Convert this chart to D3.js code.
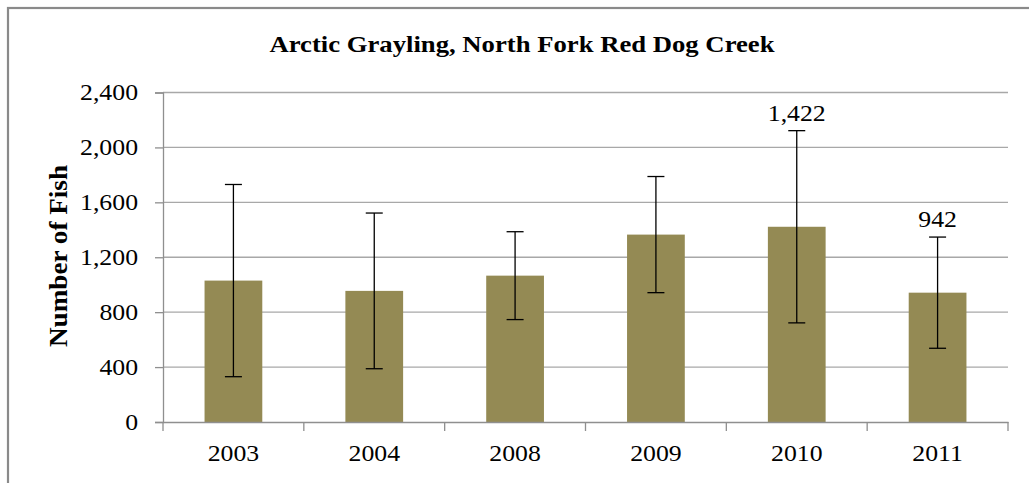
<!DOCTYPE html>
<html><head><meta charset="utf-8">
<script src="https://cdn.jsdelivr.net/npm/d3@7"></script>
<style>
html,body{margin:0;padding:0;background:#fff;}
svg{display:block;}
</style></head>
<body>
<svg id="c" width="1029" height="483"></svg>
<script>
const years = ["2003","2004","2008","2009","2010","2011"];
const counts = [1030, 955, 1066, 1365, 1422, 942];
const errors = [700, 567, 320, 423, 700, 405];
const yTicks = [0, 400, 800, 1200, 1600, 2000, 2400];
const labeled = {"2010":"1,422", "2011":"942"};
const titleText = "Arctic Grayling, North Fork Red Dog Creek";
const yTitle = "Number of Fish";

const FONT = '"Liberation Serif", "Times New Roman", Times, serif';
const STRETCH = 1.12;
function serif(sel, size, bold){
  sel.style("font-family", FONT).style("font-size", size + "px")
     .style("font-weight", bold ? "bold" : "normal").attr("fill", "#000");
}
function widen(sel){
  sel.each(function(){
    const w = this.getComputedTextLength();
    d3.select(this).attr("textLength", w*STRETCH).attr("lengthAdjust","spacingAndGlyphs");
  });
}

const svg = d3.select("#c");
const m = {left:163, right:1008, top:92.5, bottom:422};

// outer chart border
svg.append("rect").attr("x",8).attr("y",8).attr("width",1040).attr("height",500)
  .attr("fill","#fff").attr("stroke","#8a8a8a").attr("stroke-width",2.2);

const x = d3.scaleBand().domain(years).range([m.left,m.right]).paddingInner(0.59).paddingOuter(0.295);
const xb = d3.scaleBand().domain(years).range([m.left,m.right]);
const y = d3.scaleLinear().domain([0,2400]).range([m.bottom,m.top]);

// gridlines
svg.append("g").selectAll("line").data(yTicks.filter(d=>d>0)).join("line")
  .attr("x1",m.left).attr("x2",m.right).attr("y1",d=>y(d)).attr("y2",d=>y(d))
  .attr("stroke","#a8a8a8").attr("stroke-width",1.3);

// y axis
const ya = svg.append("g").attr("transform",`translate(${m.left},0)`)
  .call(d3.axisLeft(y).tickValues(yTicks).tickFormat(d3.format(",")).tickSize(8).tickPadding(17));
ya.select(".domain").attr("stroke","#8f8f8f").attr("stroke-width",1.3);
ya.selectAll(".tick line").attr("stroke","#8f8f8f").attr("stroke-width",1.3);
ya.selectAll("text").call(serif, 23, false).call(widen);

// bars
svg.append("g").selectAll("rect").data(years).join("rect")
  .attr("x",d=>x(d)).attr("width",x.bandwidth())
  .attr("y",(d,i)=>y(counts[i])).attr("height",(d,i)=>y(0)-y(counts[i]))
  .attr("fill","#948a54");

// x axis
const xa = svg.append("g").attr("transform",`translate(0,${m.bottom})`)
  .call(d3.axisBottom(xb).tickSize(0).tickPadding(23));
xa.select(".domain").attr("stroke","#8f8f8f").attr("stroke-width",1.3);
xa.selectAll("text").call(serif, 23, false).call(widen);
const bounds = [m.left].concat(years.map(d=>xb(d)+xb.bandwidth()));
svg.append("g").selectAll("line").data(bounds).join("line")
  .attr("x1",d=>d).attr("x2",d=>d).attr("y1",m.bottom).attr("y2",m.bottom+9)
  .attr("stroke","#8f8f8f").attr("stroke-width",1.3);

// error bars
const eb = svg.append("g").attr("stroke","#000").attr("stroke-width",1.3);
years.forEach((d,i)=>{
  const cx = x(d)+x.bandwidth()/2;
  const hi = y(counts[i]+errors[i]), lo = y(counts[i]-errors[i]);
  eb.append("line").attr("x1",cx).attr("x2",cx).attr("y1",hi).attr("y2",lo);
  eb.append("line").attr("x1",cx-8.5).attr("x2",cx+8.5).attr("y1",hi).attr("y2",hi);
  eb.append("line").attr("x1",cx-8.5).attr("x2",cx+8.5).attr("y1",lo).attr("y2",lo);
});

// data labels
years.forEach((d,i)=>{
  if(!labeled[d]) return;
  svg.append("text").attr("x",x(d)+x.bandwidth()/2).attr("y",y(counts[i]+errors[i])-10)
    .attr("text-anchor","middle").text(labeled[d]).call(serif, 23, false).call(widen);
});

// title
svg.append("text").attr("x",522).attr("y",52).attr("text-anchor","middle")
  .text(titleText).call(serif, 24, true)
  .attr("textLength",505).attr("lengthAdjust","spacingAndGlyphs");

// y title
svg.append("text").attr("transform","translate(67,256) rotate(-90)").attr("text-anchor","middle")
  .text(yTitle).call(serif, 26, true)
  .attr("textLength",182).attr("lengthAdjust","spacingAndGlyphs");
</script>
</body></html>
